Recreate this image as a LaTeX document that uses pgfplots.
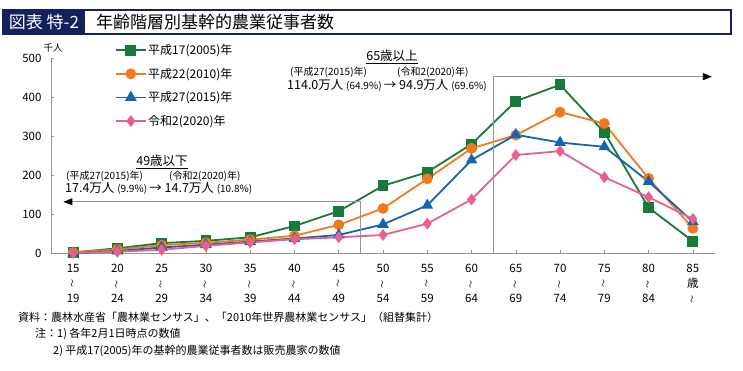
\documentclass[border=0pt]{standalone}
\usepackage{fontspec}
\setmainfont{Noto Sans CJK JP}
\usepackage{graphicx}
\usepackage{pgfplots}
\pgfplotsset{compat=1.18}
\usetikzlibrary{arrows.meta}
\definecolor{cgreen}{RGB}{22,122,58}
\definecolor{corange}{RGB}{243,121,32}
\definecolor{cblue}{RGB}{20,100,178}
\definecolor{cpink}{RGB}{233,96,142}
\definecolor{navy}{RGB}{22,32,92}
\definecolor{axgray}{RGB}{150,150,150}
\newcommand{\fs}[1]{\fontsize{#1}{#1}\selectfont}
\newcommand{\wave}{\smash{\raisebox{1pt}{\rotatebox[origin=c]{90}{\fs{8}〜}}}}
\begin{document}
\begin{tikzpicture}
\path[use as bounding box] (0pt,0pt) rectangle (743pt,370pt);
% title
\draw[navy, line width=1.2pt] (3pt,336pt) rectangle (731pt,360pt);
\fill[navy] (3pt,336pt) rectangle (85pt,360pt);
\node[anchor=center, text=white, inner sep=0pt, font=\fs{17}] at (44pt,348pt) {図表 特-2};
\node[anchor=west, inner sep=0pt, font=\fs{17}] at (96pt,348pt) {年齢階層別基幹的農業従事者数};
\begin{axis}[
  scale only axis, width=664pt, height=195pt,
  at={(51pt,116.7pt)}, anchor=south west,
  xmin=-0.5, xmax=14.5, ymin=0, ymax=500,
  axis x line*=bottom, axis y line*=left,
  axis line style={axgray, line width=0.8pt},
  tick style={axgray, line width=0.6pt}, tick align=inside, major tick length=3pt,
  ytick={0,100,200,300,400,500},
  xtick={0,1,...,14},
  xticklabels={{15\\\wave\\19},{20\\\wave\\24},{25\\\wave\\29},{30\\\wave\\34},{35\\\wave\\39},{40\\\wave\\44},{45\\\wave\\49},{50\\\wave\\54},{55\\\wave\\59},{60\\\wave\\64},{65\\\wave\\69},{70\\\wave\\74},{75\\\wave\\79},{80\\\wave\\84},{85\\歳\\\wave}},
  xticklabel style={align=center, font=\fontsize{11.5}{15}\selectfont, yshift=-7pt},
  yticklabel style={font=\fs{11.5}, xshift=-6pt},
  /pgf/number format/assume math mode=true,
  clip=false,
  legend style={at={(0.096,1.08)}, anchor=north west, draw=none, fill=none,
    font=\fs{12}, row sep=9pt, inner sep=0pt, nodes={inner sep=1.5pt}},
  legend cell align=left,
  legend image code/.code={\draw[#1, mark=none] (0pt,0pt) -- (30pt,0pt); \draw[#1] plot[only marks] coordinates {(15pt,0pt)};},
]
\addplot[cgreen, line width=1.8pt, mark=square*, mark size=4.5pt, mark options={fill=cgreen}] coordinates {
(0,2) (1,13) (2,26) (3,32) (4,41) (5,70) (6,108) (7,173) (8,208) (9,280) (10,390) (11,432) (12,310) (13,117) (14,31)};
\addplot[corange, line width=1.8pt, mark=*, mark size=4.5pt, mark options={fill=corange}] coordinates {
(0,2) (1,10) (2,21) (3,27) (4,35) (5,45) (6,73) (7,115) (8,191) (9,269) (10,303) (11,362) (12,333) (13,192) (14,64)};
\addplot[cblue, line width=1.8pt, mark=triangle*, mark size=5pt, mark options={fill=cblue}] coordinates {
(0,0) (1,6) (2,15) (3,22) (4,30) (5,38) (6,47) (7,74) (8,123) (9,239) (10,304) (11,284) (12,273) (13,184) (14,81)};
\addplot[cpink, line width=1.8pt, mark=diamond*, mark size=4.5pt, mark options={fill=cpink}] coordinates {
(0,1) (1,4) (2,9) (3,19) (4,28) (5,36) (6,41) (7,47) (8,76) (9,138) (10,252) (11,262) (12,195) (13,144) (14,88)};
\legend{平成17(2005)年,平成22(2010)年,平成27(2015)年,令和2(2020)年}
% brackets
\draw[axgray, line width=0.8pt, -{Triangle[length=9pt,width=7pt,color=black]}] (axis cs:6.5,0) -- (axis cs:6.5,132) -- (axis cs:-0.22,132);
\draw[axgray, line width=0.8pt, -{Triangle[length=9pt,width=7pt,color=black]}] (axis cs:9.5,0) -- (axis cs:9.5,453) -- (axis cs:14.43,453);
\end{axis}
% y unit
\node[anchor=center, inner sep=0pt, font=\fs{9.5}] at (53pt,322pt) {千人};
% annotations left
\node[anchor=center, inner sep=0pt, font=\fs{12.5}] at (162pt,208pt) {\underline{49歳以下}};
\node[anchor=west, inner sep=0pt, font=\fs{10}] at (66pt,194pt) {(平成27(2015)年)};
\node[anchor=west, inner sep=0pt, font=\fs{10}] at (169pt,194pt) {(令和2(2020)年)};
\node[anchor=west, inner sep=0pt] at (65pt,182pt) {\fs{12.5}17.4万人 \fs{10}(9.9\%) \fs{12.5}→ 14.7万人 \fs{10}(10.8\%)};
% annotations right
\node[anchor=center, inner sep=0pt, font=\fs{12.5}] at (392pt,313pt) {\underline{65歳以上}};
\node[anchor=west, inner sep=0pt, font=\fs{10}] at (290pt,298pt) {(平成27(2015)年)};
\node[anchor=west, inner sep=0pt, font=\fs{10}] at (397pt,298pt) {(令和2(2020)年)};
\node[anchor=west, inner sep=0pt] at (287pt,285pt) {\fs{12.5}114.0万人 \fs{10}(64.9\%) \fs{12.5}→ 94.9万人 \fs{10}(69.6\%)};
% notes
\node[anchor=west, inner sep=0pt, font=\fs{11}] at (18pt,53pt) {資料：農林水産省「農林業センサス」、「2010年世界農林業センサス」（組替集計）};
\node[anchor=west, inner sep=0pt, font=\fs{11}] at (35pt,36pt) {注：1) 各年2月1日時点の数値};
\node[anchor=west, inner sep=0pt, font=\fs{11}] at (53pt,19pt) {2) 平成17(2005)年の基幹的農業従事者数は販売農家の数値};
\end{tikzpicture}
\end{document}
